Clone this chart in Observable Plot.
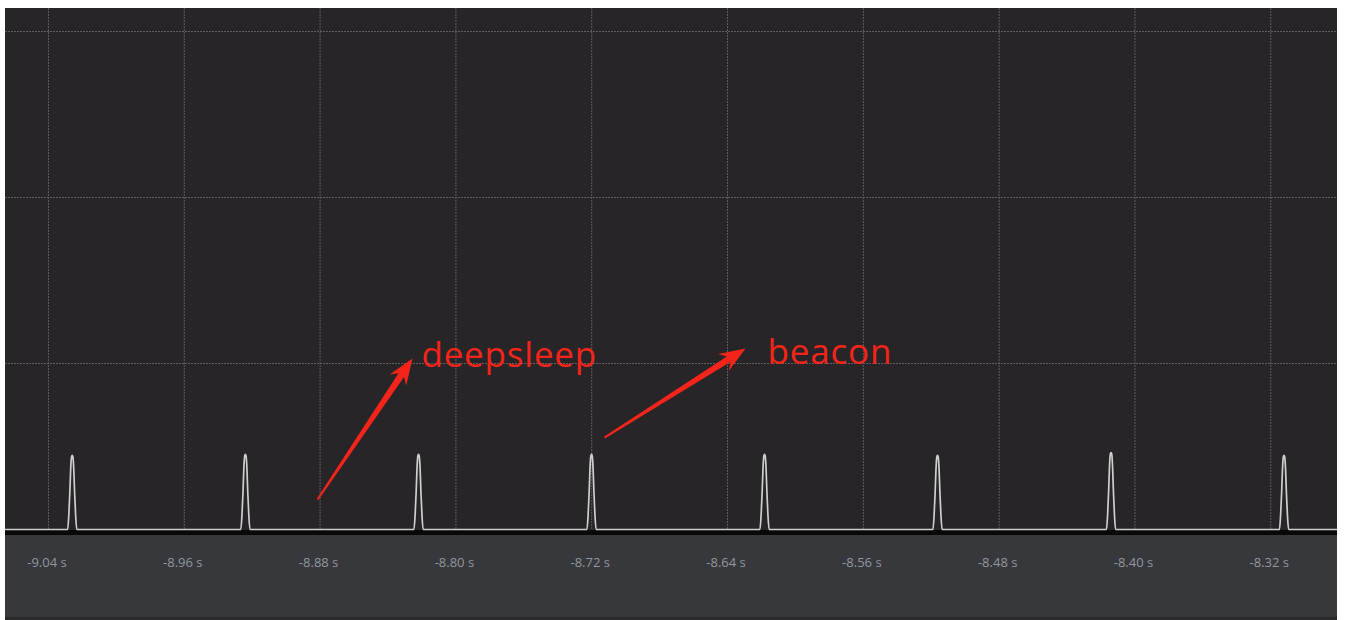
<!DOCTYPE html>
<html><head><meta charset="utf-8">
<script src="https://cdn.jsdelivr.net/npm/d3@7"></script>
<script src="https://cdn.jsdelivr.net/npm/@observablehq/plot@0.6"></script>
<style>
html,body{margin:0;padding:0;background:#fff;width:1346px;height:620px;overflow:hidden}
#panel{position:absolute;left:5px;top:8px;width:1332px;height:612px;
background:linear-gradient(to bottom,#272527 0,#272527 522px,#080808 522px,#080808 527px,#37383c 527px,#37383c 609px,#29292b 609px,#29292b 612px);}
#panel svg{display:block;background:transparent}
.note text{letter-spacing:0.8px}
</style></head><body><div id="panel"></div>
<script>
// time axis (seconds)
const xTicks = [-9.04, -8.96, -8.88, -8.80, -8.72, -8.64, -8.56, -8.48, -8.40, -8.32];
const timeStart = -9.0653;
const timeEnd = -8.2807;
// horizontal grid levels (arbitrary current units)
const yGrid = [1, 2, 3];
const yMax = 3.1386;
// pulse (beacon wake-up) centres and peak heights
const peakTimes = [-9.0260, -8.9240, -8.8220, -8.7201, -8.6182, -8.5163, -8.4141, -8.3122];
const peakHeights = [0.446, 0.452, 0.452, 0.452, 0.452, 0.446, 0.464, 0.446];
// pulse profile: time offset (s) and relative level
const pulseOffsets = [-0.0027, -0.002, -0.0014, -0.0009, -0.0004, 0, 0.0004, 0.0009, 0.0014, 0.002, 0.0027];
const pulseShape = [0, 0.2, 0.5, 0.82, 0.98, 1, 0.98, 0.82, 0.5, 0.2, 0];
// annotations
const labelNames = ["deepsleep", "beacon"];
const labelX = [-8.8203, -8.6164];
const labelY = [0.976, 0.994];
const arrowTailX = [-8.8815, -8.7125];
const arrowTailY = [0.181, 0.554];
const arrowTipX = [-8.8256, -8.6294];
const arrowTipY = [1.030, 1.090];

const W = 1332, H = 609, MB = 88;
const RED = "#f5241b";

const trace = [{t: timeStart, v: 0}];
peakTimes.forEach((pt, i) => {
  pulseOffsets.forEach((o, j) => trace.push({t: pt + o, v: peakHeights[i] * pulseShape[j]}));
});
trace.push({t: timeEnd, v: 0});

const labels = labelNames.map((name, i) => ({name, x: labelX[i], y: labelY[i]}));

const sx = Plot.scale({x: {domain: [timeStart, timeEnd], range: [0, W]}});
const sy = Plot.scale({y: {domain: [0, yMax], range: [H - MB, 0]}});

const arrowShape = {
  draw(ctx, l) {
    const hl = 26, hw = 10, notch = 6, t0 = 1.0, t1 = 3.3;
    ctx.moveTo(-t0, 0);
    ctx.lineTo(-t1, -(l - hl + notch));
    ctx.lineTo(-hw, -(l - hl));
    ctx.lineTo(0, -l);
    ctx.lineTo(hw, -(l - hl));
    ctx.lineTo(t1, -(l - hl + notch));
    ctx.lineTo(t0, 0);
    ctx.closePath();
  }
};

const arrowMarks = labelNames.map((_, i) => {
  const dx = sx.apply(arrowTipX[i]) - sx.apply(arrowTailX[i]);
  const dy = sy.apply(arrowTipY[i]) - sy.apply(arrowTailY[i]);
  const len = Math.hypot(dx, dy);
  const rot = Math.atan2(dx, -dy) * 180 / Math.PI;
  return Plot.vector([{x: arrowTipX[i], y: arrowTipY[i]}], {
    x: "x", y: "y", length: len, rotate: rot, anchor: "end",
    shape: arrowShape, fill: RED, stroke: "none"
  });
});

const chart = Plot.plot({
  width: W, height: H,
  marginTop: 0, marginBottom: MB, marginLeft: 0, marginRight: 0,
  style: {fontFamily: "'Open Sans', sans-serif", background: "transparent"},
  x: {domain: [timeStart, timeEnd]},
  y: {domain: [0, yMax], axis: null},
  marks: [
    Plot.gridX(xTicks, {stroke: "#5e5e5e", strokeOpacity: 1, strokeDasharray: "2,1"}),
    Plot.gridY(yGrid, {stroke: "#5e5e5e", strokeOpacity: 1, strokeDasharray: "2,1"}),
    Plot.axisX(xTicks, {tickSize: 0, tickPadding: 28, fontSize: 13, color: "#92969e", dx: -1.5,
      tickFormat: d => d.toFixed(2) + " s"}),
    Plot.line(trace, {x: "t", y: "v", curve: "monotone-x", stroke: "#cfcfcf", strokeWidth: 1.7}),
    ...arrowMarks,
    Plot.text(labels, {x: "x", y: "y", text: "name", fill: RED, fontSize: 35, className: "note",
      fontFamily: "'Open Sans', sans-serif", textAnchor: "start", lineAnchor: "bottom"})
  ]
});
document.getElementById("panel").appendChild(chart);
</script>
</body></html>
